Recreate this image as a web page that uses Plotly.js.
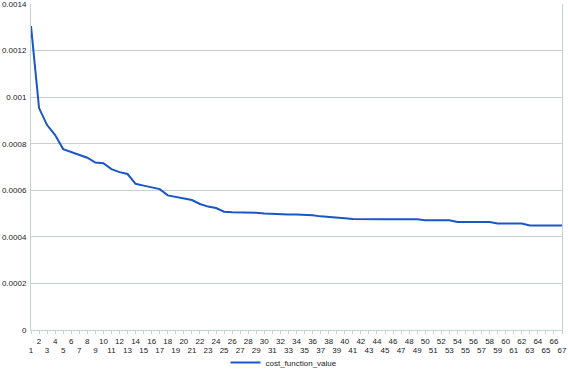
<!DOCTYPE html>
<html>
<head>
<meta charset="utf-8">
<script src="https://cdn.plot.ly/plotly-3.0.1.min.js"></script>
<style>html,body{margin:0;padding:0;background:#fff;}#chart{width:568px;height:370px;}</style>
</head>
<body>
<div id="chart"></div>
<script>
var seriesName = "cost_function_value";
var categories = [1,2,3,4,5,6,7,8,9,10,11,12,13,14,15,16,17,18,19,20,21,22,23,24,25,26,27,28,29,30,31,32,33,34,35,36,37,38,39,40,41,42,43,44,45,46,47,48,49,50,51,52,53,54,55,56,57,58,59,60,61,62,63,64,65,66,67];
var values = [
  0.001305, 0.000953, 0.000880, 0.000837, 0.000777, 0.000764, 0.000754, 0.000740, 0.000719, 0.000716,
  0.000691, 0.000678, 0.000670, 0.000628, 0.000620, 0.000614, 0.000605, 0.000578, 0.000571, 0.000562,
  0.000558, 0.000541, 0.000530, 0.000524, 0.000508, 0.000506, 0.000506, 0.000506, 0.000504, 0.000500,
  0.000498, 0.000496, 0.000496, 0.000496, 0.000496, 0.000493, 0.000488, 0.000486, 0.000485, 0.000480,
  0.000477, 0.000476, 0.000476, 0.000476, 0.000476, 0.000476, 0.000476, 0.000476, 0.000476, 0.000471,
  0.000471, 0.000471, 0.000471, 0.000464, 0.000464, 0.000464, 0.000464, 0.000464, 0.000457, 0.000457,
  0.000457, 0.000457, 0.000449, 0.000449, 0.000449, 0.000449, 0.000449
];
var yTickVals = [0, 0.0002, 0.0004, 0.0006, 0.0008, 0.001, 0.0012, 0.0014];
var yTickText = ["0", "0.0002", "0.0004", "0.0006", "0.0008", "0.001", "0.0012", "0.0014"];

var oddVals = categories.filter(function(c){ return c % 2 === 1; });

var gridColor = "#c4d2d6";
var fontSpec = {family: "Liberation Sans, Arial, sans-serif", size: 8, color: "#222"};

var traces = [
  {x: categories, y: values, type: "scatter", mode: "lines", name: seriesName,
   line: {color: "#1a56c8", width: 2}, xaxis: "x", yaxis: "y"},
  {x: categories, y: values, type: "scatter", mode: "none", showlegend: false,
   hoverinfo: "skip", xaxis: "x2", yaxis: "y"}
];

var layout = {
  width: 568, height: 370,
  margin: {l: 31, r: 6, t: 4, b: 40, pad: 0},
  paper_bgcolor: "#fff", plot_bgcolor: "#fff",
  font: fontSpec,
  showlegend: true,
  legend: {orientation: "h", x: 0.5, xanchor: "center", xref: "container",
           y: 0.02, yanchor: "middle", yref: "container", font: fontSpec, itemwidth: 30,
           bgcolor: "rgba(0,0,0,0)"},
  xaxis: {range: [1, 67], tickmode: "array", tickvals: oddVals, ticktext: oddVals.map(String),
          showgrid: false, zeroline: false, showline: true, linecolor: gridColor, linewidth: 1,
          ticks: "", tickfont: fontSpec, ticklabelstandoff: 12, ticklabeloverflow: "allow", automargin: false},
  xaxis2: {range: [1, 67], overlaying: "x", anchor: "y", side: "bottom",
           tickmode: "array", tickvals: categories, ticktext: categories.map(function(c){ return c % 2 === 0 ? String(c) : ""; }),
           showgrid: false, zeroline: false, showline: false,
           ticks: "outside", ticklen: 3, tickcolor: gridColor, tickwidth: 1, tickfont: fontSpec,
           ticklabelstandoff: 0, ticklabeloverflow: "allow", automargin: false},
  yaxis: {range: [0, 0.0014], tickmode: "array", tickvals: yTickVals, ticktext: yTickText,
          showgrid: true, gridcolor: gridColor, gridwidth: 1, zeroline: false,
          showline: true, mirror: true, linecolor: gridColor, linewidth: 1,
          ticks: "", tickfont: fontSpec, ticklabelstandoff: 2, ticklabeloverflow: "allow", automargin: false}
};

Plotly.newPlot("chart", traces, layout, {displayModeBar: false, staticPlot: true});
</script>
</body>
</html>
